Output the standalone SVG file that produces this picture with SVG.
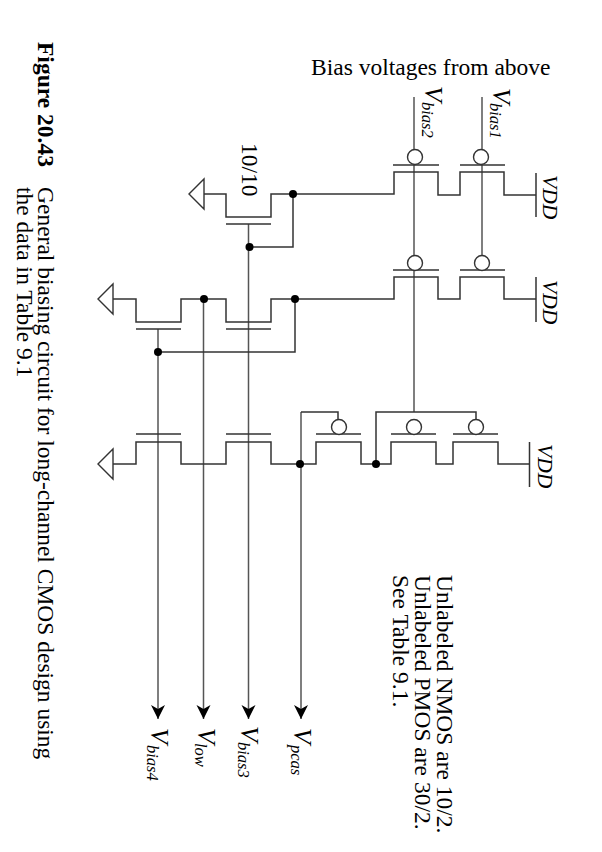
<svg xmlns="http://www.w3.org/2000/svg" width="602" height="852" viewBox="0 0 602 852">
<style>
text{font-family:"Liberation Serif","Times New Roman",serif;fill:#000}
.c{font-size:23.500px}
.t{font-size:21.500px;font-style:italic}
.v{font-size:26px;font-style:italic}
.s{font-size:16.500px;font-style:italic}
.w{fill:none;stroke:#333;stroke-width:1.500}
.g{fill:none;stroke:#555;stroke-width:1.500}
.o{fill:#fff;stroke:#333;stroke-width:1.400}
.d{fill:#000;stroke:none}
</style>
<defs>
<marker id="a" markerUnits="userSpaceOnUse" markerWidth="16" markerHeight="16" refX="14" refY="7" orient="auto"><path d="M0 0L14 7L0 14L4 7Z" fill="#000"/></marker>
<circle id="dot" r="4" class="d"/>
<path id="gnd" class="o" d="M0 0L15 -15V15Z"/>
</defs>
<rect width="602" height="852" fill="#fff"/>
<g id="connectors">
<path class="g" d="M414 97V412"/>
<path class="g" d="M482 97V258"/>
<path class="g" d="M158 329V719" marker-end="url(#a)"/>
<path class="g" d="M203.500 299V719" marker-end="url(#a)"/>
<path class="g" d="M248.500 224V719" marker-end="url(#a)"/>
<path class="g" d="M301 412V719" marker-end="url(#a)"/>
<path class="w" d="M293 194V247H249"/>
<path class="w" d="M295 299V352H158"/>
<path class="w" d="M301 412H338V419"/>
<path class="w" d="M376 464V412H476V419"/>
</g>
<g id="row1">
<path class="w" d="M204 194H226V217H271V194H394V172H438V195H460V172H504V195H536"/>
<path class="w" d="M226 224H271M393 165H439M460 165H505M536 173V217"/>
<use href="#gnd" x="189" y="194"/>
<circle class="o" cx="415" cy="157" r="7.500"/>
<circle class="o" cx="481" cy="157" r="7.500"/>
</g>
<g id="row2">
<path class="w" d="M113 299H136V322H181V299H226V322H271V299H394V277H438V299H460V277H504V299H536"/>
<path class="w" d="M136 329H181M226 329H271M393 270H439M460 270H505M536 277V322"/>
<use href="#gnd" x="98" y="299"/>
<circle class="o" cx="415" cy="263" r="7.500"/>
<circle class="o" cx="482" cy="263" r="7.500"/>
</g>
<g id="row3">
<path class="w" d="M113 464H136V442H181V464H226V442H271V464H316V442H361V464H391V442H436V464H453V442H498V464H529"/>
<path class="w" d="M136 434H181M226 434H271M316 434H361M391 434H436M453 434H498M529.500 442V487"/>
<use href="#gnd" x="98" y="464"/>
<circle class="o" cx="339" cy="427" r="7.500"/>
<circle class="o" cx="414" cy="427" r="7.500"/>
<circle class="o" cx="476" cy="427" r="7.500"/>
</g>
<g id="junctions">
<use href="#dot" x="293" y="194"/>
<use href="#dot" x="249.500" y="247"/>
<use href="#dot" x="204" y="299"/>
<use href="#dot" x="295" y="299"/>
<use href="#dot" x="158" y="352"/>
<use href="#dot" x="300" y="464"/>
<use href="#dot" x="376" y="464"/>
</g>
<g id="labels">
<text class="c" x="311" y="75">Bias voltages from above</text>
<text class="c" transform="translate(242 143) rotate(90)">10/10</text>
<text class="t" transform="translate(543 175) rotate(90)">VDD</text>
<text class="t" transform="translate(543 280) rotate(90)">VDD</text>
<text class="t" transform="translate(538 444) rotate(90)">VDD</text>
<text class="v" transform="translate(425 86) rotate(90)">V</text>
<text class="s" transform="translate(422 102) rotate(90)">bias2</text>
<text class="v" transform="translate(493 88) rotate(90)">V</text>
<text class="s" transform="translate(490 103) rotate(90)">bias1</text>
<text class="v" transform="translate(151 728) rotate(90)">V</text>
<text class="s" transform="translate(147 745) rotate(90)">bias4</text>
<text class="v" transform="translate(198 728) rotate(90)">V</text>
<text class="s" transform="translate(195 743) rotate(90)">low</text>
<text class="v" transform="translate(241 726) rotate(90)">V</text>
<text class="s" transform="translate(238 742) rotate(90)">bias3</text>
<text class="v" transform="translate(294 728) rotate(90)">V</text>
<text class="s" transform="translate(291 745) rotate(90)">pcas</text>
<text class="c" transform="translate(437 575) rotate(90)">Unlabeled NMOS are 10/2.</text>
<text class="c" transform="translate(415 575) rotate(90)">Unlabeled PMOS are 30/2.</text>
<text class="c" transform="translate(393 575) rotate(90)">See Table 9.1.</text>
<text class="c" transform="translate(38 42) rotate(90)" style="font-weight:bold">Figure 20.43</text>
<text class="c" transform="translate(38 187) rotate(90)">General biasing circuit for long-channel CMOS design using</text>
<text class="c" transform="translate(17 187) rotate(90)">the data in Table 9.1</text>
</g>
</svg>
